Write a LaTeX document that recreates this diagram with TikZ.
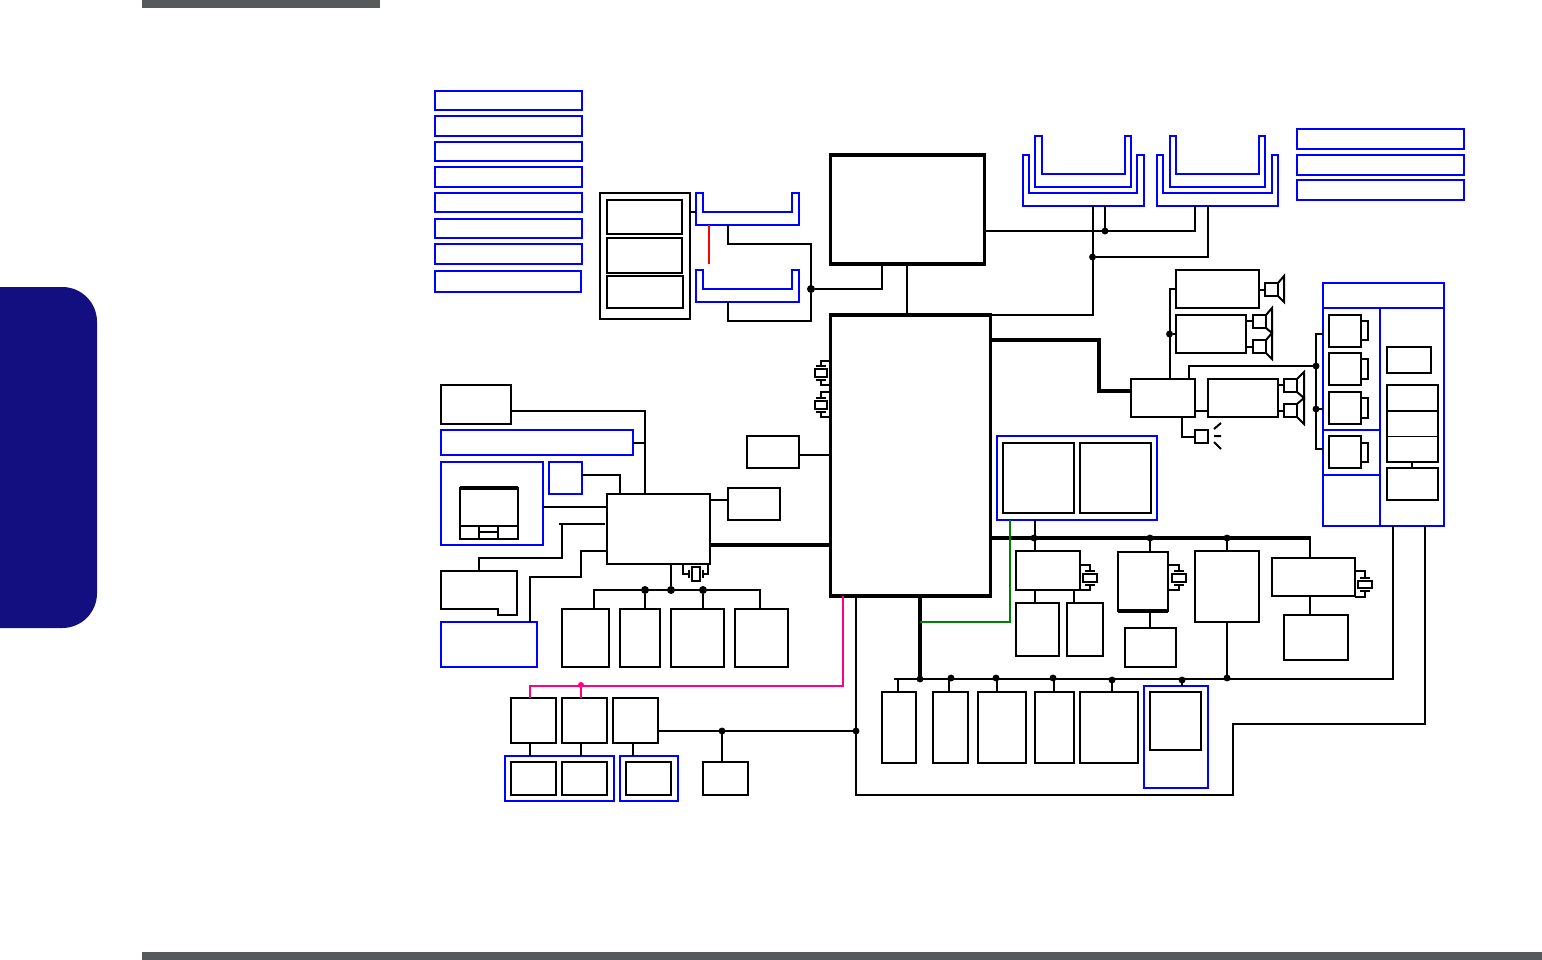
\documentclass[tikz,border=0pt]{standalone}
\definecolor{navytab}{HTML}{140F80}
\definecolor{bargray}{HTML}{58595B}
\definecolor{pinkwire}{HTML}{FF0080}
\definecolor{greenwire}{HTML}{008000}
\tikzset{
  box/.style={draw=black,line width=1.5pt,fill=white,inner sep=0pt,outer sep=0pt},
  bigbox/.style={draw=black,line width=2.4pt,fill=white,inner sep=0pt,outer sep=0pt},
  bluebox/.style={draw=blue,line width=1.5pt,fill=white,inner sep=0pt,outer sep=0pt},
  ghost/.style={inner sep=0pt,outer sep=0pt},
  wire/.style={draw=black,line width=1.5pt},
  thinwire/.style={draw=black,line width=0.9pt},
  bus/.style={draw=black,line width=2.4pt},
  heavy/.style={draw=black,line width=3pt},
  bluewire/.style={draw=blue,line width=1.5pt},
  dot/.style={circle,fill=black,inner sep=0pt,outer sep=0pt,minimum size=5.2pt},
  bigdot/.style={circle,fill=black,inner sep=0pt,outer sep=0pt,minimum size=6pt},
  pinkdot/.style={circle,fill=pinkwire,inner sep=0pt,outer sep=0pt,minimum size=4.5pt}
}
% box: [style]{name}{x1}{y1}{x2}{y2} in reference pixels
\newcommand{\bx}[6][box]{%
  \pgfmathsetmacro{\bxw}{(#5-#3)*0.75}\pgfmathsetmacro{\bxh}{(#6-#4)*0.75}%
  \pgfmathsetmacro{\bxcx}{(#3+#5)/2}\pgfmathsetmacro{\bxcy}{(#4+#6)/2}%
  \node[#1,minimum width=\bxw pt,minimum height=\bxh pt] (#2) at (\bxcx,\bxcy) {};}
% slot: {name}{x1}{ytop}{x2}{ybot}{xi1}{xi2}{yi}
\newcommand{\slotshape}[8]{%
  \bx[ghost]{#1}{#2}{#3}{#4}{#5}%
  \draw[bluewire,fill=white] (#2,#3) -- (#2,#5) -- (#4,#5) -- (#4,#3) -- (#7,#3) -- (#7,#8) -- (#6,#8) -- (#6,#3) -- cycle;}
% speaker: {name}{x1}{y1}{x2}{y2}{cone x}{cone y1}{cone y2}
\newcommand{\speaker}[8]{%
  \bx{#1}{#2}{#3}{#4}{#5}%
  \draw[wire,line join=miter] (#1.north east) -- (#6,#7) -- (#6,#8) -- (#1.south east);}
% crystal: {name}{x1}{y1}{x2}{y2}, plates above and below
\newcommand{\xtalH}[5]{%
  \bx[box,line width=0.9pt]{#1}{#2}{#3}{#4}{#5}%
  \pgfmathsetmacro{\xm}{(#2+#4)/2}\pgfmathsetmacro{\xa}{\xm-5}\pgfmathsetmacro{\xb}{\xm+5}%
  \pgfmathsetmacro{\ya}{#3-3}\pgfmathsetmacro{\yb}{#5+3}%
  \draw[thinwire] (\xa,\ya) -- (\xb,\ya) (\xa,\yb) -- (\xb,\yb);}
\begin{document}
\begin{tikzpicture}[x=0.75pt,y=-0.75pt]
\useasboundingbox (0,0) rectangle (1542,960);
\fill[white] (0,0) rectangle (1542,960);
% page furniture
\fill[bargray] (142,0) rectangle (380,8);
\fill[bargray] (142,952) rectangle (1542,960);
\fill[navytab] (0,287) [rounded corners=26pt] -- (97,287) -- (97,628) [sharp corners] -- (0,628) -- cycle;
% blue lists
\bx[bluebox]{la}{434.5}{91}{582}{110}
\bx[bluebox]{lb}{434.5}{116}{582}{136}
\bx[bluebox]{lc}{434.5}{142}{582}{161}
\bx[bluebox]{ld}{434.5}{167}{582}{187}
\bx[bluebox]{le}{434.5}{193}{582}{212}
\bx[bluebox]{lf}{434.5}{219}{582}{238}
\bx[bluebox]{lg}{434.5}{244}{582}{264}
\bx[bluebox]{lh}{434.5}{271}{581}{292}
\bx[bluebox]{ra}{1297}{129}{1464}{149}
\bx[bluebox]{rb}{1297}{155}{1464}{175}
\bx[bluebox]{rc}{1297}{180}{1464}{200}
% memory stack
\bx{mem}{600}{193}{690}{319}
\bx{mema}{607}{200}{682}{234}
\bx{memb}{607}{238}{682}{273}
\bx{memc}{607}{276}{683}{308}
\slotshape{soa}{696}{193}{799}{225}{703}{792}{212}
\slotshape{sob}{696}{270}{799}{302}{703}{792}{289}
% double slots
\slotshape{dao}{1023}{155}{1144}{206}{1029}{1137}{193}
\slotshape{dai}{1035}{136}{1131}{187}{1042}{1125}{174}
\slotshape{dbo}{1157}{155}{1278}{206}{1163}{1272}{193}
\slotshape{dbi}{1170}{136}{1265}{187}{1176}{1259}{174}
% main chips
\bx[bigbox]{cpu}{830.5}{155}{984.5}{264}
\bx[bigbox]{main}{830.5}{315}{990.5}{596}
\bx{hbox}{747}{436}{799}{468}
\bx{gbox}{728}{487.5}{780}{520}
\bx{ec}{607}{494}{710}{564}
% left group
\bx{abox}{441}{385}{511}{424}
\bx[bluebox]{bblue}{441}{430}{633}{455}
\bx[bluebox]{cblue}{441}{462}{543}{545}
\bx[bluebox]{dblue}{549}{462}{582}{494}
\bx[bluebox]{fblue}{441}{622}{537}{667}
\bx{tp}{460}{488}{518}{539}
\draw[bus] (tp.north west) -- (tp.north east);
\draw[thinwire] (tp.west |- 0,526) -- (tp.east |- 0,526);
\draw[thinwire] (tp.south -| 479,0) -- (479,526) (tp.south -| 498,0) -- (498,526);
\draw[thinwire] (479,532) -- (498,532);
\coordinate (enotcha) at (498,609);
\coordinate (enotchb) at (498,615);
\bx[ghost]{ebox}{441}{571}{517}{615}
\draw[wire,fill=white] (ebox.north west) -- (ebox.north east) -- (ebox.south east) -- (enotchb) -- (enotcha) -- (441,609) -- cycle;
% row below EC
\bx{ra1}{562}{609}{609}{667}
\bx{ra2}{620}{609}{660}{667}
\bx{ra3}{671}{609}{724}{667}
\bx{ra4}{735}{609}{788}{667}
\node[bigdot] (j645) at (645,590) {};
\node[bigdot] (j671) at (671,590) {};
\node[bigdot] (j703) at (703,590) {};
% connectors, left
\draw[wire] (abox.east |- 0,411) -| (ec.north -| 645,0);
\draw[wire] (bblue.east) -- (bblue.east -| 645,0);
\draw[wire] (dblue.east |- 0,475) -| (ec.north -| 620,0);
\draw[wire] (cblue.east |- 0,507) -- (ec.west |- 0,507);
\draw[wire] (ec.west |- 0,524) ++(-2,0) -- (559,524);
\draw[wire] (562,524) -- (562,558) -| (ebox.north -| 479,0);
\draw[wire] (fblue.north -| 530,0) -- (530,577) -| (581,551) -- (ec.west |- 0,551);
\draw[wire] (ec.east |- 0,500) -- (gbox.west |- 0,500);
\draw[wire] (hbox.east |- 0,455) -- (main.west |- 0,455);
\draw[bus,line width=3pt] (ec.east |- 0,545) -- (main.west |- 0,545);
\draw[wire] (ec.south -| 671,0) -- (j671);
\draw[wire] (ra1.north -| 594,0) -- (594,590) -| (ra4.north -| 760,0);
\draw[wire] (j645) -- (ra2.north -| 645,0);
\draw[wire] (j703) -- (ra3.north -| 703,0);
% crystal below EC
\bx[box,line width=0.9pt]{xec}{692}{567}{700}{581}
\draw[thinwire] (ec.south -| 683,0) -- (683,574) -- (689,574);
\draw[thinwire] (689,570) -- (689,578) (703,570) -- (703,578);
\draw[thinwire] (703,574) -- (708,574) -- (ec.south -| 708,0);
% crystals on main, left side
\xtalH{xa}{815}{369}{827}{377}
\xtalH{xb}{815}{401}{827}{409}
\draw[thinwire] (xa.north) ++(0,-3) |- (main.west |- 0,361);
\draw[thinwire] (xa.south) ++(0,3) |- (main.west |- 0,385);
\draw[thinwire] (xb.north) ++(0,-3) |- (main.west |- 0,392);
\draw[thinwire] (xb.south) ++(0,3) |- (main.west |- 0,417);
% top connectors
\draw[wire] (mem.east |- 0,212) -- (soa.west |- 0,212);
\draw[draw=red,line width=1.5pt] (soa.south -| 709,0) -- (709,264);
\node[bigdot] (j811) at (811,289) {};
\draw[wire] (soa.south -| 728,0) |- (811,244) -- (811,321) -| (sob.south -| 728,0);
\draw[wire] (j811) -| (cpu.south -| 882,0);
\draw[wire] (cpu.south -| 907,0) -- (main.north -| 907,0);
\node[dot] (j1105) at (1105,231) {};
\node[dot] (j1092) at (1092.5,257) {};
\draw[wire] (cpu.east |- 0,231) -| (dbo.south -| 1195,0);
\draw[wire] (j1105) -- (dao.south -| 1105,0);
\draw[wire] (dao.south -| 1093,0) |- (main.east |- 0,315);
\draw[wire] (j1092) -| (dbo.south -| 1208,0);
% audio
\bx{audio}{1131}{379}{1195}{417}
\bx{ampa}{1176}{270}{1259}{308}
\bx{ampb}{1176}{315}{1246}{353}
\bx{ampc}{1208}{379}{1278}{417}
\draw[heavy] (main.east |- 0,340) -| (1099,391) -- (audio.west |- 0,391);
\node[dot] (j1169) at (1169.5,334) {};
\draw[wire] (audio.north -| 1170,0) |- (ampa.west |- 0,289);
\draw[wire] (j1169) -- (ampb.west |- j1169);
\draw[wire] (audio.east |- 0,411) -- (ampc.west |- 0,411);
\speaker{spa}{1265}{283}{1278}{296}{1284}{276}{302}
\speaker{spb}{1253}{315}{1266}{328}{1272}{308}{333}
\speaker{spc}{1253}{340}{1266}{353}{1272}{333}{359}
\speaker{spd}{1284}{379}{1297}{392}{1304}{372}{398}
\speaker{spe}{1284}{404}{1297}{417}{1304}{398}{424}
\draw[wire] (ampa.east |- spa) -- (spa);
\draw[wire] (ampb.east |- 0,321) -- (spb.west |- 0,321);
\draw[wire] (ampb.east |- 0,347) -- (spc.west |- 0,347);
\draw[wire] (ampc.east |- 0,385) -- (spd.west |- 0,385);
\draw[wire] (ampc.east |- 0,411) -- (spe.west |- 0,411);
\bx{led}{1195}{430}{1208}{443}
\draw[wire] (audio.south -| 1182,0) |- (led);
\coordinate (raya) at (1214,429); \coordinate (rayb) at (1221,423);
\coordinate (rayc) at (1214,436); \coordinate (rayd) at (1221,436);
\coordinate (raye) at (1214,442); \coordinate (rayf) at (1221,449);
\draw[wire] (raya) -- (rayb) (rayc) -- (rayd) (raye) -- (rayf);
% right panel
\bx[bluebox]{panel}{1323}{283}{1444}{526}
\draw[bluewire] (panel.west |- 0,308) -- (panel.east |- 0,308);
\draw[bluewire] (1380,308) -- (panel.south -| 1380,0);
\draw[bluewire] (panel.west |- 0,430) -- (1380,430);
\draw[bluewire] (panel.west |- 0,475) -- (1380,475);
\bx{pa}{1329}{315}{1361}{347}\bx{pat}{1361}{321}{1368}{340}
\bx{pb}{1329}{353}{1361}{385}\bx{pbt}{1361}{359}{1368}{379}
\bx{pc}{1329}{392}{1361}{424}\bx{pct}{1361}{398}{1368}{418}
\bx{pd}{1329}{436}{1361}{468}\bx{pdt}{1361}{443}{1368}{462}
\bx{pe}{1387}{347}{1431}{373}
\bx{pf}{1387}{385}{1438}{411}
\bx{pg}{1387}{411}{1438}{462}
\draw[thinwire,line width=0.6pt] (pg.west |- 0,436) -- (pg.east |- 0,436);
\bx{ph}{1387}{468}{1438}{500}
\draw[wire] (pg.south -| 1412,0) -- (ph.north -| 1412,0);
\node[dot] (j1316a) at (1316,366) {};
\node[dot] (j1316b) at (1316,409) {};
\draw[wire] (audio.north -| 1189,0) |- (j1316a);
\draw[wire] (panel.west |- 0,334) -- (1316,334) -- (1316,449) -- (panel.west |- 0,449);
\draw[wire] (j1316b) -- (panel.west |- j1316b);
% blue memory group
\bx[bluebox]{grp}{997}{436}{1157}{520}
\bx{grpa}{1003}{443}{1074}{513}
\bx{grpb}{1080}{443}{1151}{513}
% bus 538 and children
\node[dot] (j1034) at (1034,538) {};
\node[dot] (j1150) at (1150,538) {};
\node[dot] (j1227) at (1227,538) {};
\bx{jbox}{1016}{551}{1080}{590}
\bx{kbox}{1118}{552}{1168}{611}
\draw[bus] (kbox.south west) -- (kbox.south east);
\bx{lbox}{1195}{551}{1259}{622}
\bx{mbox}{1272}{558}{1355}{596}
\bx{j1}{1016}{603}{1059}{656}
\bx{j2}{1067}{603}{1103}{656}
\bx{k1}{1125}{628}{1176}{667}
\bx{m1}{1284}{615}{1348}{660}
\draw[bus] (main.east |- 0,538) -- (1311,538);
\draw[wire] (1310,538) -- (mbox.north -| 1310,0);
\draw[wire] (grp.south -| 1035,0) -- (jbox.north -| 1035,0);
\draw[wire] (j1150) -- (kbox.north -| j1150);
\draw[wire] (j1227) -- (lbox.north -| j1227);
\draw[wire] (jbox.south -| 1035,0) -- (j1.north -| 1035,0);
\draw[wire] (jbox.south -| 1074,0) -- (j2.north -| 1074,0);
\draw[wire] (kbox.south -| 1150,0) -- (k1.north -| 1150,0);
\draw[wire] (mbox.south -| 1310,0) -- (m1.north -| 1310,0);
% crystals on right row
\xtalH{xj}{1083}{574}{1097}{582}
\xtalH{xk}{1172}{574}{1186}{582}
\xtalH{xm}{1358}{581}{1372}{588}
\draw[thinwire] (jbox.east |- 0,565) -| (1090,571) (1090,585) |- (jbox.east |- 0,590);
\draw[thinwire] (kbox.east |- 0,565) -| (1179,571) (1179,585) |- (kbox.east |- 0,590);
\draw[thinwire] (mbox.east |- 0,571) -| (1365,578) (1365,591) |- (mbox.east |- 0,597);
% bottom row
\bx{ba}{882}{692}{916}{763}
\bx{bb}{933}{692}{968}{763}
\bx{bc}{978}{692}{1026}{763}
\bx{bd}{1035}{692}{1074}{763}
\bx{be}{1080}{692}{1138}{763}
\bx[bluebox]{bf}{1144}{686}{1208}{788}
\bx{bfi}{1150}{692}{1201}{750}
\node[dot] (b920) at (920,679) {};
\node[dot] (b951) at (951,678) {};
\node[dot] (b996) at (996,678) {};
\node[dot] (b1053) at (1053,678) {};
\node[dot] (b1112) at (1112,680) {};
\node[dot] (b1182) at (1182,680) {};
\node[dot] (b1227) at (1227,678) {};
\coordinate (busstart) at (894,679);
\draw[wire] (busstart) -- (1393,679) -- (panel.south -| 1393,0);
\draw[wire] (898,679) -- (ba.north -| 898,0);
\draw[wire] (949,679) -- (bb.north -| 949,0);
\draw[wire] (997,679) -- (bc.north -| 997,0);
\draw[wire] (1054,679) -- (bd.north -| 1054,0);
\draw[wire] (be.north -| 1112,0) -- (b1112);
\draw[wire] (bf.north -| 1182,0) -- (b1182);
\draw[wire] (lbox.south -| 1227,0) -- (b1227);
\draw[draw=black,line width=3pt] (main.south -| 920,0) -- (b920);
\draw[draw=greenwire,line width=1.5pt] (grp.south -| 1010,0) -- (1010,622) -- (920,622);
% long return
\node[dot] (j856) at (856,731) {};
\draw[wire] (main.south -| 856,0) -- (856,795) -| (1233,724) -| (panel.south -| 1425,0);
% lower left
\bx{lla}{511}{698}{556}{743}
\bx{llb}{562}{698}{607}{743}
\bx{llc}{613}{698}{658}{743}
\bx[bluebox]{llg}{505}{756}{614}{801}
\bx{lld}{511}{762}{556}{795}
\bx{lle}{562}{762}{607}{795}
\bx[bluebox]{llh}{620}{756}{678}{801}
\bx{llf}{626}{762}{671}{795}
\bx{lli}{703}{762}{748}{795}
\node[dot] (j722) at (722,731) {};
\draw[wire] (llc.east |- j856) -- (j856);
\draw[wire] (j722) -- (lli.north -| j722);
\draw[wire] (lla.south -| 530,0) -- (llg.north -| 530,0);
\draw[wire] (llb.south -| 581,0) -- (llg.north -| 581,0);
\draw[wire] (llc.south -| 633,0) -- (llh.north -| 633,0);
\node[pinkdot] (p581) at (581,685) {};
\draw[draw=pinkwire,line width=1.5pt] (main.south -| 843,0) |- (530,686) -- (lla.north -| 530,0);
\draw[draw=pinkwire,line width=1.5pt] (p581) -- (llb.north -| p581);
\end{tikzpicture}
\end{document}
